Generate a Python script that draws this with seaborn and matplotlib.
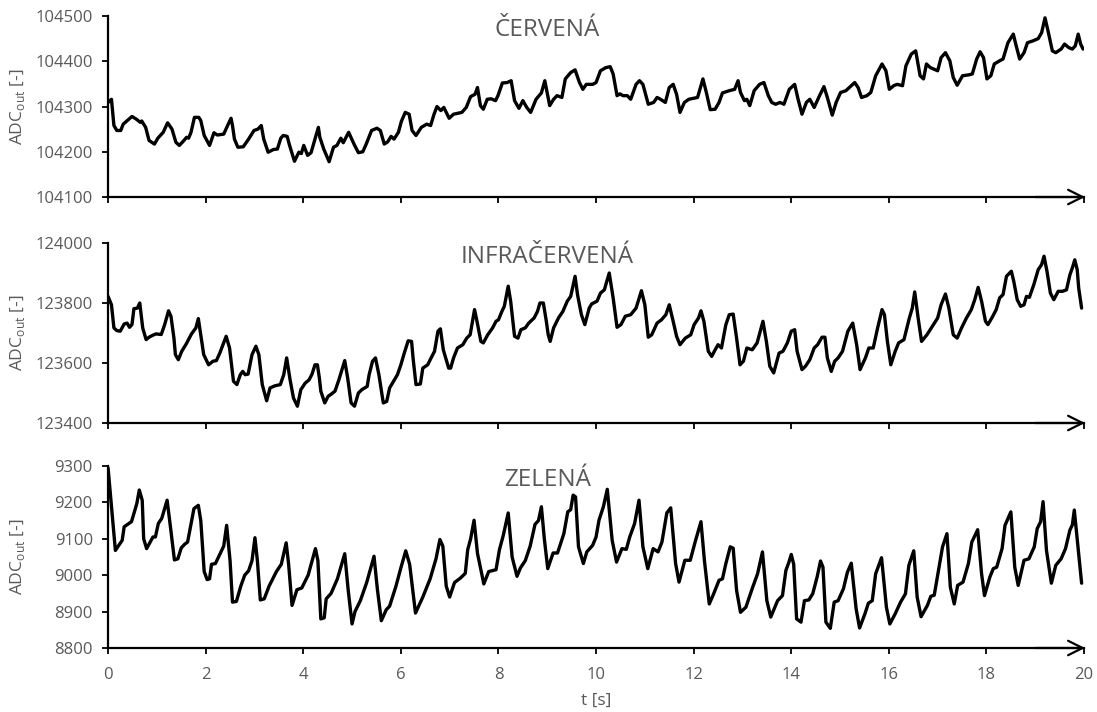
import matplotlib
matplotlib.use("Agg")
import matplotlib.pyplot as plt
import seaborn as sns

# red channel, t [s] and ADC value
red_t = [0.00, 0.07, 0.12, 0.18, 0.26, 0.31, 0.49, 0.58, 0.66, 0.69, 0.77, 0.84, 0.95, 1.02, 1.13,
         1.22, 1.31, 1.39, 1.46, 1.53, 1.61, 1.65, 1.70, 1.77, 1.86, 1.90, 1.97, 2.08, 2.17, 2.24,
         2.37, 2.45, 2.52, 2.55, 2.59, 2.66, 2.77, 2.88, 2.99, 3.07, 3.14, 3.19, 3.28, 3.39, 3.47,
         3.54, 3.59, 3.67, 3.72, 3.82, 3.91, 3.96, 4.01, 4.09, 4.16, 4.31, 4.34, 4.42, 4.49, 4.53,
         4.62, 4.69, 4.77, 4.82, 4.93, 5.04, 5.13, 5.22, 5.29, 5.40, 5.51, 5.58, 5.66, 5.73, 5.80,
         5.86, 5.95, 6.01, 6.09, 6.17, 6.23, 6.31, 6.42, 6.53, 6.61, 6.68, 6.74, 6.82, 6.88, 6.99,
         7.08, 7.25, 7.34, 7.43, 7.52, 7.57, 7.63, 7.69, 7.77, 7.85, 7.94, 7.99, 8.08, 8.18, 8.26,
         8.33, 8.42, 8.50, 8.58, 8.66, 8.77, 8.88, 8.95, 9.05, 9.13, 9.20, 9.30, 9.37, 9.48, 9.57,
         9.66, 9.73, 9.80, 9.93, 10.00, 10.09, 10.20, 10.29, 10.35, 10.43, 10.49, 10.55, 10.64, 10.71,
         10.82, 10.89, 10.96, 11.07, 11.18, 11.25, 11.32, 11.42, 11.50, 11.58, 11.65, 11.72, 11.81,
         11.90, 12.08, 12.19, 12.26, 12.34, 12.44, 12.52, 12.59, 12.73, 12.84, 12.91, 12.96, 13.04,
         13.09, 13.15, 13.24, 13.35, 13.44, 13.53, 13.60, 13.68, 13.77, 13.85, 13.96, 14.07, 14.14,
         14.22, 14.31, 14.38, 14.47, 14.58, 14.67, 14.74, 14.84, 14.92, 15.01, 15.12, 15.23, 15.30,
         15.37, 15.44, 15.55, 15.63, 15.73, 15.86, 15.94, 16.01, 16.10, 16.17, 16.28, 16.35, 16.46,
         16.55, 16.64, 16.71, 16.77, 16.85, 17.00, 17.07, 17.16, 17.25, 17.32, 17.40, 17.51, 17.64,
         17.71, 17.80, 17.87, 17.94, 18.01, 18.09, 18.16, 18.27, 18.34, 18.44, 18.55, 18.60, 18.68,
         18.77, 18.84, 18.95, 19.06, 19.13, 19.20, 19.27, 19.35, 19.42, 19.53, 19.60, 19.69, 19.76,
         19.82, 19.88, 19.93, 19.98]
red_v = [104309, 104316, 104258, 104247, 104247, 104261, 104278, 104272, 104265, 104268, 104254,
         104225, 104217, 104230, 104243, 104264, 104250, 104221, 104214, 104222, 104232, 104230,
         104243, 104276, 104276, 104269, 104236, 104214, 104242, 104237, 104239, 104258, 104274,
         104258, 104228, 104210, 104211, 104228, 104247, 104250, 104258, 104228, 104199, 104205,
         104206, 104230, 104236, 104234, 104214, 104179, 104199, 104196, 104214, 104192, 104198,
         104254, 104232, 104206, 104188, 104178, 104210, 104214, 104230, 104220, 104243, 104217,
         104198, 104200, 104217, 104247, 104252, 104247, 104217, 104222, 104234, 104228, 104243,
         104267, 104287, 104283, 104247, 104236, 104254, 104261, 104258, 104283, 104300, 104291,
         104298, 104274, 104283, 104287, 104298, 104322, 104327, 104342, 104302, 104294, 104316,
         104317, 104313, 104324, 104352, 104353, 104357, 104313, 104296, 104313, 104298, 104287,
         104316, 104330, 104357, 104302, 104316, 104324, 104320, 104361, 104375, 104381, 104353,
         104338, 104349, 104349, 104353, 104379, 104386, 104388, 104372, 104324, 104328, 104324,
         104324, 104316, 104349, 104357, 104349, 104305, 104309, 104320, 104316, 104309, 104342,
         104349, 104327, 104287, 104309, 104316, 104320, 104361, 104331, 104293, 104294, 104309,
         104330, 104335, 104338, 104357, 104331, 104313, 104316, 104302, 104335, 104349, 104353,
         104324, 104309, 104305, 104309, 104305, 104338, 104349, 104316, 104283, 104309, 104316,
         104298, 104324, 104344, 104320, 104281, 104309, 104331, 104335, 104346, 104353, 104342,
         104320, 104324, 104331, 104368, 104394, 104379, 104338, 104346, 104349, 104346, 104390,
         104416, 104423, 104368, 104361, 104394, 104386, 104379, 104408, 104419, 104401, 104364,
         104347, 104368, 104370, 104372, 104405, 104421, 104408, 104361, 104368, 104394, 104401,
         104405, 104441, 104460, 104438, 104405, 104419, 104441, 104445, 104450, 104463, 104496,
         104463, 104423, 104419, 104427, 104438, 104430, 104427, 104434, 104460, 104438, 104427]

# infrared channel
ir_t = [0.00, 0.07, 0.12, 0.18, 0.25, 0.33, 0.39, 0.44, 0.49, 0.53, 0.60, 0.65, 0.71, 0.78, 0.84,
        0.91, 0.98, 1.09, 1.16, 1.24, 1.29, 1.35, 1.38, 1.44, 1.51, 1.60, 1.71, 1.80, 1.85, 1.91,
        1.96, 2.06, 2.15, 2.22, 2.29, 2.42, 2.49, 2.57, 2.64, 2.71, 2.76, 2.81, 2.87, 2.95, 3.03,
        3.09, 3.16, 3.25, 3.32, 3.42, 3.53, 3.60, 3.66, 3.73, 3.80, 3.88, 3.95, 4.04, 4.12, 4.18,
        4.24, 4.29, 4.33, 4.36, 4.44, 4.51, 4.58, 4.65, 4.73, 4.85, 4.91, 4.98, 5.05, 5.13, 5.20,
        5.31, 5.35, 5.42, 5.48, 5.55, 5.64, 5.71, 5.77, 5.85, 5.93, 6.00, 6.07, 6.15, 6.22, 6.25,
        6.31, 6.40, 6.45, 6.55, 6.62, 6.69, 6.76, 6.81, 6.87, 6.98, 7.02, 7.08, 7.16, 7.27, 7.35,
        7.42, 7.51, 7.56, 7.64, 7.69, 7.78, 7.88, 7.95, 8.00, 8.07, 8.12, 8.20, 8.25, 8.33, 8.40,
        8.46, 8.55, 8.62, 8.73, 8.80, 8.85, 8.92, 8.98, 9.02, 9.06, 9.13, 9.23, 9.32, 9.41, 9.48,
        9.57, 9.62, 9.70, 9.77, 9.86, 9.91, 10.02, 10.09, 10.17, 10.27, 10.35, 10.43, 10.51, 10.60,
        10.71, 10.82, 10.93, 11.00, 11.07, 11.14, 11.25, 11.34, 11.43, 11.50, 11.58, 11.65, 11.72,
        11.83, 11.94, 12.01, 12.10, 12.15, 12.21, 12.30, 12.37, 12.44, 12.50, 12.57, 12.66, 12.73,
        12.81, 12.88, 12.95, 13.02, 13.09, 13.20, 13.30, 13.42, 13.49, 13.56, 13.64, 13.75, 13.83,
        13.92, 14.00, 14.07, 14.12, 14.22, 14.29, 14.38, 14.47, 14.54, 14.63, 14.69, 14.74, 14.82,
        14.89, 14.96, 15.05, 15.16, 15.26, 15.34, 15.41, 15.52, 15.59, 15.68, 15.77, 15.86, 15.91,
        15.97, 16.04, 16.13, 16.20, 16.31, 16.42, 16.48, 16.53, 16.60, 16.67, 16.78, 16.89, 17.00,
        17.07, 17.16, 17.23, 17.32, 17.40, 17.49, 17.59, 17.69, 17.76, 17.83, 17.90, 17.98, 18.03,
        18.12, 18.20, 18.27, 18.34, 18.41, 18.51, 18.56, 18.63, 18.70, 18.77, 18.82, 18.88, 18.97,
        19.06, 19.13, 19.18, 19.24, 19.31, 19.38, 19.47, 19.56, 19.64, 19.71, 19.76, 19.81, 19.86,
        19.89, 19.95]
ir_v = [123822, 123794, 123717, 123708, 123706, 123730, 123733, 123719, 123728, 123781, 123783,
        123800, 123717, 123678, 123686, 123692, 123697, 123695, 123728, 123774, 123755, 123683,
        123628, 123611, 123639, 123663, 123697, 123717, 123748, 123683, 123628, 123594, 123606,
        123608, 123633, 123689, 123650, 123539, 123528, 123561, 123572, 123561, 123563, 123628,
        123656, 123628, 123528, 123474, 123517, 123524, 123528, 123561, 123617, 123544, 123483,
        123456, 123511, 123533, 123544, 123563, 123594, 123594, 123550, 123506, 123467, 123489,
        123497, 123506, 123544, 123608, 123550, 123467, 123456, 123500, 123511, 123522, 123561,
        123606, 123617, 123561, 123467, 123472, 123517, 123539, 123561, 123594, 123633, 123674,
        123672, 123617, 123528, 123530, 123583, 123594, 123617, 123639, 123706, 123714, 123644,
        123583, 123583, 123617, 123650, 123661, 123683, 123694, 123778, 123739, 123672, 123667,
        123694, 123717, 123739, 123744, 123772, 123789, 123856, 123806, 123689, 123683, 123711,
        123717, 123733, 123750, 123772, 123800, 123800, 123740, 123694, 123672, 123717, 123750,
        123772, 123806, 123822, 123889, 123828, 123761, 123728, 123783, 123797, 123806, 123833,
        123844, 123900, 123817, 123719, 123728, 123756, 123761, 123783, 123841, 123794, 123686,
        123694, 123733, 123744, 123761, 123794, 123739, 123689, 123661, 123683, 123694, 123728,
        123750, 123774, 123739, 123639, 123622, 123644, 123661, 123650, 123728, 123761, 123763,
        123683, 123594, 123606, 123650, 123644, 123667, 123739, 123672, 123589, 123567, 123633,
        123639, 123667, 123706, 123711, 123639, 123578, 123589, 123611, 123650, 123661, 123686,
        123686, 123617, 123572, 123606, 123617, 123639, 123706, 123733, 123661, 123578, 123617,
        123650, 123650, 123717, 123778, 123761, 123672, 123594, 123639, 123667, 123678, 123750,
        123783, 123837, 123750, 123672, 123694, 123722, 123750, 123794, 123830, 123783, 123694,
        123683, 123717, 123750, 123778, 123811, 123852, 123806, 123739, 123728, 123753, 123778,
        123817, 123828, 123889, 123906, 123872, 123811, 123789, 123794, 123822, 123819, 123861,
        123911, 123928, 123956, 123906, 123833, 123811, 123839, 123839, 123844, 123894, 123917,
        123944, 123911, 123850, 123783]

# green channel
green_t = [0.00, 0.15, 0.29, 0.33, 0.48, 0.59, 0.64, 0.70, 0.73, 0.79, 0.92, 0.97, 1.03, 1.10,
           1.21, 1.27, 1.36, 1.43, 1.50, 1.57, 1.63, 1.76, 1.85, 1.90, 1.97, 2.03, 2.08, 2.12,
           2.20, 2.30, 2.37, 2.43, 2.50, 2.55, 2.63, 2.72, 2.80, 2.88, 2.95, 3.01, 3.06, 3.12,
           3.20, 3.30, 3.45, 3.55, 3.65, 3.70, 3.77, 3.87, 3.97, 4.10, 4.25, 4.30, 4.36, 4.43,
           4.47, 4.57, 4.70, 4.85, 4.92, 5.00, 5.06, 5.17, 5.30, 5.45, 5.52, 5.60, 5.70, 5.77,
           5.90, 6.00, 6.10, 6.18, 6.30, 6.45, 6.60, 6.72, 6.80, 6.86, 6.93, 7.00, 7.10, 7.22,
           7.32, 7.37, 7.43, 7.50, 7.57, 7.70, 7.80, 7.95, 8.02, 8.10, 8.20, 8.28, 8.38, 8.45,
           8.55, 8.65, 8.75, 8.82, 8.88, 8.94, 9.01, 9.12, 9.21, 9.34, 9.42, 9.48, 9.53, 9.58,
           9.64, 9.74, 9.81, 9.93, 10.00, 10.06, 10.15, 10.23, 10.33, 10.42, 10.53, 10.62, 10.69,
           10.79, 10.88, 10.96, 11.06, 11.17, 11.27, 11.35, 11.45, 11.53, 11.63, 11.70, 11.82,
           11.93, 12.04, 12.15, 12.22, 12.32, 12.41, 12.52, 12.59, 12.66, 12.75, 12.81, 12.88,
           12.96, 13.07, 13.21, 13.31, 13.41, 13.50, 13.58, 13.72, 13.82, 13.89, 13.95, 14.00,
           14.05, 14.11, 14.20, 14.27, 14.36, 14.44, 14.53, 14.60, 14.65, 14.71, 14.80, 14.88,
           14.96, 15.07, 15.15, 15.23, 15.33, 15.40, 15.51, 15.58, 15.66, 15.73, 15.85, 15.95,
           16.02, 16.13, 16.24, 16.34, 16.41, 16.51, 16.58, 16.66, 16.79, 16.86, 16.93, 17.04,
           17.10, 17.19, 17.26, 17.34, 17.41, 17.52, 17.63, 17.70, 17.82, 17.90, 17.96, 18.07,
           18.14, 18.21, 18.32, 18.38, 18.50, 18.58, 18.65, 18.77, 18.87, 18.98, 19.04, 19.11,
           19.16, 19.23, 19.33, 19.42, 19.53, 19.62, 19.71, 19.76, 19.80, 19.89, 19.95]
green_v = [9295, 9068, 9096, 9133, 9147, 9197, 9234, 9206, 9100, 9073, 9105, 9105, 9142, 9156,
           9206, 9142, 9042, 9045, 9075, 9085, 9091, 9183, 9192, 9150, 9010, 8988, 8990, 9030,
           9032, 9060, 9080, 9137, 9040, 8926, 8928, 8970, 9000, 9012, 9040, 9103, 9040, 8932,
           8935, 8970, 9010, 9030, 9089, 9030, 8917, 8960, 8965, 9000, 9073, 9040, 8880, 8883,
           8935, 8950, 8990, 9059, 8960, 8866, 8900, 8930, 8980, 9052, 8960, 8875, 8905, 8915,
           8970, 9020, 9067, 9030, 8896, 8940, 8990, 9045, 9098, 9080, 8970, 8940, 8980, 8992,
           9005, 9070, 9100, 9151, 9060, 8976, 9010, 9015, 9070, 9110, 9171, 9050, 8997, 9020,
           9040, 9080, 9140, 9150, 9188, 9100, 9018, 9061, 9061, 9114, 9174, 9180, 9220, 9215,
           9078, 9032, 9064, 9082, 9105, 9151, 9188, 9236, 9096, 9036, 9073, 9071, 9105, 9142,
           9206, 9078, 9018, 9073, 9064, 9091, 9171, 9185, 9032, 8981, 9041, 9041, 9096, 9147,
           9041, 8921, 8949, 8986, 8990, 9032, 9078, 9074, 8958, 8898, 8912, 8967, 9004, 9064,
           8930, 8885, 8930, 8944, 9013, 9035, 9057, 9030, 8880, 8871, 8930, 8932, 8949, 8995,
           9039, 9022, 8871, 8854, 8926, 8930, 8963, 9008, 9033, 8907, 8855, 8894, 8923, 8930,
           9004, 9048, 8912, 8866, 8894, 8926, 8949, 9027, 9067, 8940, 8886, 8917, 8942, 8945,
           9032, 9078, 9114, 8967, 8921, 8972, 8981, 9032, 9091, 9125, 9004, 8944, 8995, 9018,
           9022, 9073, 9137, 9174, 9022, 8972, 9041, 9045, 9078, 9128, 9147, 9202, 9068, 8978,
           9027, 9045, 9073, 9124, 9138, 9179, 9059, 8978]

titles = ['ČERVENÁ', 'INFRAČERVENÁ', 'ZELENÁ']
yticks = [[104100, 104200, 104300, 104400, 104500],
          [123400, 123600, 123800, 124000],
          [8800, 8900, 9000, 9100, 9200, 9300]]
xticks = [0, 2, 4, 6, 8, 10, 12, 14, 16, 18, 20]

sns.set_style('white')
plt.rcParams['font.family'] = ['Open Sans', 'DejaVu Sans']
grey = '#595959'

fig = plt.figure(figsize=(10.97, 7.12), dpi=100)
# panel boxes in figure fractions (left, bottom, width, height)
boxes = [[0.0985, 0.7233, 0.8897, 0.2542],
         [0.0985, 0.4059, 0.8897, 0.2528],
         [0.0985, 0.0899, 0.8897, 0.2556]]
series = [(red_t, red_v), (ir_t, ir_v), (green_t, green_v)]

for i, (t, v) in enumerate(series):
    ax = fig.add_axes(boxes[i])
    sns.lineplot(x=t, y=v, ax=ax, color='black', lw=2.4, solid_joinstyle='round')
    ymin, ymax = yticks[i][0], yticks[i][-1]
    ax.set_xlim(0, 20)
    ax.set_ylim(ymin, ymax)
    ax.set_yticks(yticks[i])
    ax.set_yticklabels([str(y) for y in yticks[i]])
    ax.set_xticks(xticks)
    for s in ['top', 'right']:
        ax.spines[s].set_visible(False)
    for s in ['left', 'bottom']:
        ax.spines[s].set_linewidth(1.6)
        ax.spines[s].set_color('black')
    ax.tick_params(axis='both', direction='out', length=4, width=1.3, color='black',
                   labelsize=12, labelcolor=grey, bottom=True, left=True)
    ax.tick_params(axis='y', pad=7)
    ax.tick_params(axis='x', pad=10)
    if i < 2:
        ax.tick_params(axis='x', labelbottom=False)
    else:
        ax.set_xlabel('t [s]', fontsize=12.5, color=grey, labelpad=7)
    ax.set_ylabel(r'ADC$_{\mathregular{out}}$ [-]', fontsize=12.5, color=grey)
    ax.yaxis.set_label_coords(-0.083, 0.5)
    # arrow head at the end of the time axis
    ax.annotate('', xy=(20.02, ymin), xytext=(19.0, ymin), xycoords='data',
                arrowprops=dict(arrowstyle='->', color='black', lw=1.6, mutation_scale=26,
                                shrinkA=0, shrinkB=0), annotation_clip=False)
    ax.text(9.0, 0.89, titles[i], transform=ax.get_xaxis_transform(), ha='center',
            va='baseline', fontsize=17.5, color=grey)

plt.savefig('out.png', dpi=100)
